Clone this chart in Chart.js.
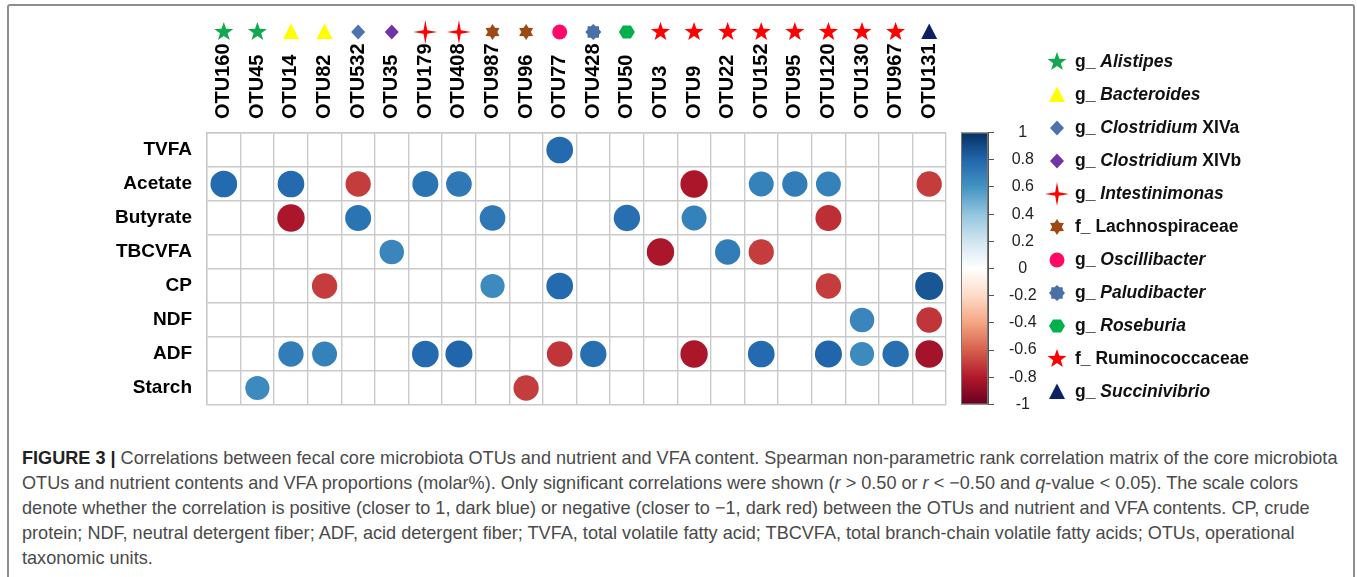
<!DOCTYPE html>
<html>
<head>
<meta charset="utf-8">
<script src="https://cdn.jsdelivr.net/npm/chart.js@4.4.1/dist/chart.umd.min.js"></script>
<style>
  body { margin: 0; background: #fff; font-family: "Liberation Sans", Arial, sans-serif; }
  #wrap { position: relative; width: 1357px; height: 577px; overflow: hidden; }
  #frame { position: absolute; left: 7px; top: 4px; width: 1344px; height: 640px; border: 2px solid #8e8e8e; border-radius: 3px; }
  #main { position: absolute; left: 0; top: 0; }
  #scale { position: absolute; left: 955px; top: 108px; }
  #caption { position: absolute; left: 22px; top: 446px; font-size: 18.1px; line-height: 25px; color: #4a4a4a; white-space: nowrap; }
  #caption b { color: #222; }
</style>
</head>
<body>
<div id="wrap">
  <div id="frame"></div>
  <canvas id="main" width="1357" height="440"></canvas>
  <canvas id="scale" width="100" height="321"></canvas>
  <div id="caption">
    <b>FIGURE 3 |</b> Correlations between fecal core microbiota OTUs and nutrient and VFA content. Spearman non-parametric rank correlation matrix of the core microbiota<br>
    OTUs and nutrient contents and VFA proportions (molar%). Only significant correlations were shown (<i>r</i> &gt; 0.50 or <i>r</i> &lt; −0.50 and <i>q</i>-value &lt; 0.05). The scale colors<br>
    denote whether the correlation is positive (closer to 1, dark blue) or negative (closer to −1, dark red) between the OTUs and nutrient and VFA contents. CP, crude<br>
    protein; NDF, neutral detergent fiber; ADF, acid detergent fiber; TVFA, total volatile fatty acid; TBCVFA, total branch-chain volatile fatty acids; OTUs, operational<br>
    taxonomic units.
  </div>
</div>
<script>
const FONT = '"Liberation Sans", Arial, sans-serif';

// columns (OTUs) and the taxon each one belongs to
const otus = ['OTU160', 'OTU45', 'OTU14', 'OTU82', 'OTU532', 'OTU35', 'OTU179', 'OTU408', 'OTU987', 'OTU96', 'OTU77',
              'OTU428', 'OTU50', 'OTU3', 'OTU9', 'OTU22', 'OTU152', 'OTU95', 'OTU120', 'OTU130', 'OTU967', 'OTU131'];
const otuTaxon = ['Alistipes', 'Alistipes', 'Bacteroides', 'Bacteroides', 'ClostridiumXIVa', 'ClostridiumXIVb',
                  'Intestinimonas', 'Intestinimonas', 'Lachnospiraceae', 'Lachnospiraceae', 'Oscillibacter',
                  'Paludibacter', 'Roseburia', 'Ruminococcaceae', 'Ruminococcaceae', 'Ruminococcaceae',
                  'Ruminococcaceae', 'Ruminococcaceae', 'Ruminococcaceae', 'Ruminococcaceae', 'Ruminococcaceae', 'Succinivibrio'];

// rows
const nutrients = ['TVFA', 'Acetate', 'Butyrate', 'TBCVFA', 'CP', 'NDF', 'ADF', 'Starch'];

// significant Spearman r per row, one entry per OTU above (null = not shown)
const tvfa     = [null, null, null, null, null, null, null, null, null, null, 0.78, null, null, null, null, null, null, null, null, null, null, null];
const acetate  = [0.78, null, 0.78, null, -0.70, null, 0.74, 0.72, null, null, null, null, null, null, -0.82, null, 0.68, 0.70, 0.68, null, null, -0.70];
const butyrate = [null, null, -0.82, null, 0.74, null, null, null, 0.72, null, null, null, 0.76, null, 0.68, null, null, null, -0.74, null, null, null];
const tbcvfa   = [null, null, null, null, null, 0.66, null, null, null, null, null, null, null, -0.82, null, 0.70, -0.70, null, null, null, null, null];
const cp       = [null, null, null, -0.70, null, null, null, null, 0.64, null, 0.78, null, null, null, null, null, null, null, -0.70, null, null, 0.86];
const ndf      = [null, null, null, null, null, null, null, null, null, null, null, null, null, null, null, null, null, null, null, 0.66, null, -0.72];
const adf      = [null, null, 0.70, 0.68, null, null, 0.78, 0.80, null, null, -0.72, 0.76, null, null, -0.82, null, 0.78, null, 0.80, 0.64, 0.76, -0.84];
const starch   = [null, 0.64, null, null, null, null, null, null, null, -0.70, null, null, null, null, null, null, null, null, null, null, null, null];
const rows = [tvfa, acetate, butyrate, tbcvfa, cp, ndf, adf, starch];

// colourbar ticks
const scaleMin = -1, scaleMax = 1, scaleStep = 0.2;

// taxon markers, in legend order
const taxa = {
  Alistipes:       { shape: 'star5',   color: '#13a84f', prefix: 'g_ ', name: 'Alistipes' },
  Bacteroides:     { shape: 'tri',     color: '#ffff00', prefix: 'g_ ', name: 'Bacteroides' },
  ClostridiumXIVa: { shape: 'diamond', color: '#4a74ad', prefix: 'g_ ', name: 'Clostridium', suffix: ' XIVa' },
  ClostridiumXIVb: { shape: 'diamond', color: '#7233a6', prefix: 'g_ ', name: 'Clostridium', suffix: ' XIVb' },
  Intestinimonas:  { shape: 'star4',   color: '#ff0000', prefix: 'g_ ', name: 'Intestinimonas' },
  Lachnospiraceae: { shape: 'star6',   color: '#9a4a12', prefix: 'f_ ', plain: 'Lachnospiraceae' },
  Oscillibacter:   { shape: 'circle',  color: '#ff0a64', prefix: 'g_ ', name: 'Oscillibacter' },
  Paludibacter:    { shape: 'star8',   color: '#4a70a8', prefix: 'g_ ', name: 'Paludibacter' },
  Roseburia:       { shape: 'hex',     color: '#00b04c', prefix: 'g_ ', name: 'Roseburia' },
  Ruminococcaceae: { shape: 'star5',   color: '#ff0000', prefix: 'f_ ', plain: 'Ruminococcaceae' },
  Succinivibrio:   { shape: 'tri',     color: '#0b2163', prefix: 'g_ ', name: 'Succinivibrio' }
};

// corrplot RdBu ramp
const rdbu = ['#67001F', '#B2182B', '#D6604D', '#F4A582', '#FDDBC7', '#FFFFFF', '#D1E5F0', '#92C5DE', '#4393C3', '#2166AC', '#053061'];

function hexRgb(h) {
  return [parseInt(h.slice(1, 3), 16), parseInt(h.slice(3, 5), 16), parseInt(h.slice(5, 7), 16)];
}

function corrColor(v) {
  const t = (v + 1) / 2 * (rdbu.length - 1);
  const i = Math.min(Math.floor(t), rdbu.length - 2);
  const f = t - i;
  const a = hexRgb(rdbu[i]), b = hexRgb(rdbu[i + 1]);
  const c = a.map((x, k) => Math.round(x + (b[k] - x) * f));
  return 'rgb(' + c.join(',') + ')';
}

function starPath(ctx, x, y, n, ro, ri) {
  ctx.beginPath();
  for (let k = 0; k < 2 * n; k++) {
    const r = k % 2 ? ri : ro;
    const a = -Math.PI / 2 + k * Math.PI / n;
    ctx.lineTo(x + r * Math.cos(a), y + r * Math.sin(a));
  }
  ctx.closePath();
}

function drawMark(ctx, shape, x, y, color) {
  ctx.save();
  ctx.fillStyle = color;
  if (shape === 'star5') starPath(ctx, x, y, 5, 10, 4);
  else if (shape === 'star4') starPath(ctx, x, y, 4, 12, 2.6);
  else if (shape === 'star6') starPath(ctx, x, y, 6, 8, 4.8);
  else if (shape === 'star8') starPath(ctx, x, y, 8, 8, 6.3);
  else if (shape === 'hex') {
    ctx.beginPath();
    for (let k = 0; k < 6; k++) {
      const a = k * Math.PI / 3;
      ctx.lineTo(x + 8 * Math.cos(a), y + 7.5 * Math.sin(a));
    }
    ctx.closePath();
  } else if (shape === 'tri') {
    ctx.beginPath();
    ctx.moveTo(x, y - 8.5); ctx.lineTo(x + 8, y + 7); ctx.lineTo(x - 8, y + 7);
    ctx.closePath();
  } else if (shape === 'diamond') {
    ctx.beginPath();
    ctx.moveTo(x, y - 7.5); ctx.lineTo(x + 7, y); ctx.lineTo(x, y + 7.5); ctx.lineTo(x - 7, y);
    ctx.closePath();
  } else {
    ctx.beginPath();
    ctx.arc(x, y, 7.5, 0, Math.PI * 2);
  }
  ctx.fill();
  ctx.restore();
}

// markers above the columns + taxon legend on the right
const markPlugin = {
  id: 'marks',
  afterDraw(chart) {
    const ctx = chart.ctx;
    const xs = chart.scales.x;
    otus.forEach((o, i) => {
      const t = taxa[otuTaxon[i]];
      drawMark(ctx, t.shape, xs.getPixelForValue(i), 32, t.color);
    });

    ctx.save();
    ctx.fillStyle = '#111';
    ctx.textBaseline = 'middle';
    Object.values(taxa).forEach((t, i) => {
      const y = 62 + i * 33;
      drawMark(ctx, t.shape, 1057, y, t.color);
      let x = 1075;
      ctx.font = 'bold 17.5px ' + FONT;
      ctx.fillText(t.prefix, x, y);
      x += ctx.measureText(t.prefix).width;
      if (t.plain) {
        ctx.fillText(t.plain, x, y);
        return;
      }
      ctx.font = 'italic bold 17.5px ' + FONT;
      ctx.fillText(t.name, x, y);
      x += ctx.measureText(t.name).width;
      if (t.suffix) {
        ctx.font = 'bold 17.5px ' + FONT;
        ctx.fillText(t.suffix, x, y);
      }
    });
    ctx.restore();
  }
};

const points = [];
rows.forEach((row, r) => {
  row.forEach((v, c) => {
    if (v !== null) points.push({ x: otus[c], y: nutrients[r], v: v });
  });
});

const gridColor = '#cacaca';

// corrplot-style circle: radius grows with sqrt(|r|), relative to the cell width
function bubbleRadius(ctx) {
  if (!ctx.raw) return 10;
  const xs = ctx.chart.scales.x;
  const cell = xs && xs.width > 0 ? xs.width / otus.length : 739 / otus.length;
  return 0.45 * Math.sqrt(Math.abs(ctx.raw.v)) * cell;
}

new Chart(document.getElementById('main'), {
  type: 'bubble',
  data: {
    datasets: [{
      data: points,
      backgroundColor: ctx => ctx.raw ? corrColor(ctx.raw.v) : '#999',
      borderWidth: 0,
      radius: bubbleRadius
    }]
  },
  options: {
    responsive: false,
    animation: false,
    events: [],
    layout: { padding: { left: 0, right: 411, top: 0, bottom: 35 } },
    plugins: { legend: { display: false }, tooltip: { enabled: false } },
    scales: {
      x: {
        type: 'category',
        labels: otus,
        position: 'top',
        offset: true,
        grid: { offset: true, color: gridColor, lineWidth: 1.4, drawTicks: false },
        border: { color: gridColor, width: 1.4 },
        ticks: {
          autoSkip: false, minRotation: 90, maxRotation: 90, padding: 14, labelOffset: 24,
          color: '#000', font: { family: FONT, size: 20, weight: 'bold' }
        },
        afterFit: s => { s.height = 133; }
      },
      y: {
        type: 'category',
        labels: nutrients,
        offset: true,
        grid: { offset: true, color: gridColor, lineWidth: 1.4, drawTicks: false },
        border: { color: gridColor, width: 1.4 },
        ticks: { padding: 15, color: '#000', font: { family: FONT, size: 19, weight: 'bold' } },
        afterFit: s => { s.width = 207; }
      }
    }
  },
  plugins: [markPlugin]
});

// colour bar: gradient painted inside the chart area of a small chart with a -1..1 axis
const gradientPlugin = {
  id: 'gradient',
  beforeDatasetsDraw(chart) {
    const { ctx, chartArea: a } = chart;
    const g = ctx.createLinearGradient(0, a.bottom, 0, a.top);
    rdbu.forEach((c, i) => g.addColorStop(i / (rdbu.length - 1), c));
    ctx.save();
    ctx.fillStyle = g;
    ctx.fillRect(a.left, a.top, a.right - a.left, a.bottom - a.top);
    ctx.strokeStyle = '#777';
    ctx.lineWidth = 1;
    ctx.strokeRect(a.left + 0.5, a.top + 0.5, a.right - a.left - 1, a.bottom - a.top - 1);
    ctx.restore();
  }
};

new Chart(document.getElementById('scale'), {
  type: 'scatter',
  data: { datasets: [] },
  options: {
    responsive: false,
    animation: false,
    events: [],
    layout: { padding: { left: 6, right: 0, top: 13, bottom: 16 } },
    plugins: { legend: { display: false }, tooltip: { enabled: false } },
    scales: {
      x: { display: false },
      y: {
        position: 'right',
        min: scaleMin,
        max: scaleMax,
        ticks: {
          stepSize: scaleStep, padding: 15, crossAlign: 'center', color: '#222',
          font: { family: FONT, size: 16 },
          callback: v => String(Math.round(v * 10) / 10)
        },
        grid: { drawOnChartArea: false, tickLength: 6, color: '#555' },
        border: { color: '#555' },
        afterFit: s => { s.width = 67; }
      }
    }
  },
  plugins: [gradientPlugin]
});
</script>
</body>
</html>
